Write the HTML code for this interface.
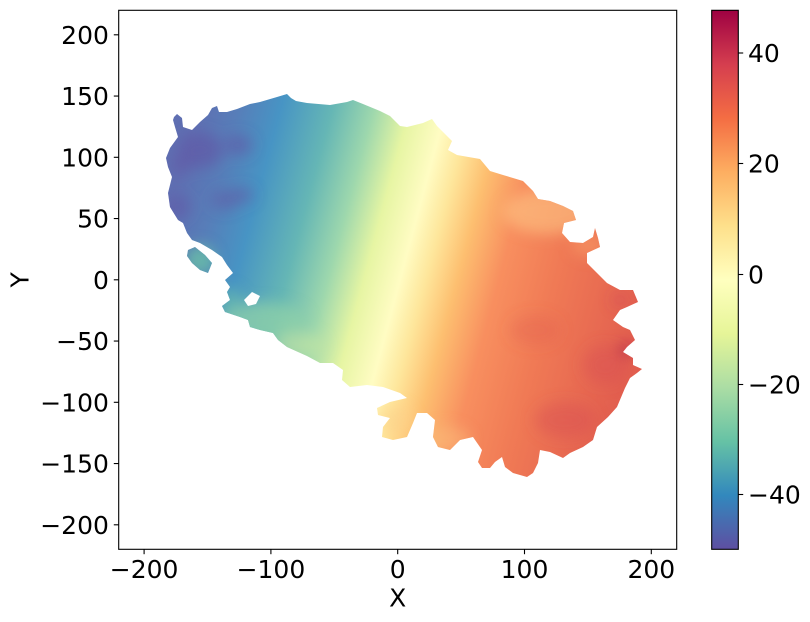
<!DOCTYPE html>
<html>
<head>
<meta charset="utf-8">
<style>
html,body{margin:0;padding:0;background:#fff;}
svg{display:block;}
text{font-family:"DejaVu Sans","Liberation Sans",sans-serif;fill:#000;}
</style>
</head>
<body>
<svg width="810" height="622" viewBox="0 0 810 622" xmlns="http://www.w3.org/2000/svg">
<defs>
  <clipPath id="blob">
    <polygon points="174,117 177,114 182,118 183,127 192,130 200,122 208,115 212,108 217,106 219,112 227,112 237,109 250,104 260,102 277,97 287,94 291,98 296,101 307,103 330,105 347,102 353,100 363,104 380,111 390,116 400,126 407,127 423,123 432,119 437,126 452,141 448,150 457,155 480,159 490,171 503,175 523,181 533,191 538,199 550,201 563,206 573,211 576,220 564,223 562,233 570,242 583,243 593,237 595,228 598,238 600,247 587,253 587,263 597,273 607,283 620,290 633,290 638,302 627,307 620,310 613,320 623,327 630,330 635,340 627,347 623,352 633,358 633,365 642,369 637,373 630,378 625,388 617,407 608,417 597,427 593,440 583,447 570,453 563,458 550,452 540,450 538,463 533,473 527,477 513,473 505,467 502,457 495,462 490,468 482,468 478,462 482,450 473,437 460,440 450,450 438,447 433,437 435,420 427,413 417,413 413,423 407,437 393,440 382,437 383,427 390,418 378,415 377,408 390,402 407,398 400,393 383,387 367,385 350,387 342,380 343,370 333,363 320,363 307,356 287,347 278,340 273,333 260,330 250,327 248,320 240,317 225,312 222,306 230,300 227,292 230,287 225,280 233,273 227,265 222,257 212,250 200,243 192,240 187,233 183,223 178,220 170,207 168,193 172,177 168,167 166,158 170,148 178,137 175,127 173,120"/>
    <polygon points="188,250 195,247 205,255 212,263 208,273 200,270 192,263 187,256"/>
  </clipPath>
  <linearGradient id="vg" gradientUnits="userSpaceOnUse" x1="168.2" y1="217.8" x2="631.8" y2="342.2">
    <stop offset="0" stop-color="#5f6fb2"/>
    <stop offset="0.083" stop-color="#577eb9"/>
    <stop offset="0.167" stop-color="#4794c4"/>
    <stop offset="0.271" stop-color="#65b6b5"/>
    <stop offset="0.354" stop-color="#9dd7ad"/>
    <stop offset="0.427" stop-color="#e6f5a3"/>
    <stop offset="0.5" stop-color="#fffcc3"/>
    <stop offset="0.552" stop-color="#fee69b"/>
    <stop offset="0.615" stop-color="#fdbf70"/>
    <stop offset="0.698" stop-color="#f88f5f"/>
    <stop offset="0.8125" stop-color="#f07a55"/>
    <stop offset="1" stop-color="#e25f4f"/>
  </linearGradient>
  <filter id="bl" x="-50%" y="-50%" width="200%" height="200%">
    <feGaussianBlur stdDeviation="7"/>
  </filter>
  <linearGradient id="cb" x1="0" y1="0" x2="0" y2="1">
    <stop offset="0" stop-color="#9e0142"/>
    <stop offset="0.1" stop-color="#d53e4f"/>
    <stop offset="0.2" stop-color="#f46d43"/>
    <stop offset="0.3" stop-color="#fdae61"/>
    <stop offset="0.4" stop-color="#fee08b"/>
    <stop offset="0.5" stop-color="#ffffbf"/>
    <stop offset="0.6" stop-color="#e6f598"/>
    <stop offset="0.7" stop-color="#abdda4"/>
    <stop offset="0.8" stop-color="#66c2a5"/>
    <stop offset="0.9" stop-color="#3288bd"/>
    <stop offset="1" stop-color="#5e4fa2"/>
  </linearGradient>
</defs>

<rect x="0" y="0" width="810" height="622" fill="#fff"/>

<!-- data blob -->
<g clip-path="url(#blob)">
  <rect x="150" y="80" width="510" height="410" fill="url(#vg)"/>
  <g filter="url(#bl)">
    <ellipse cx="200" cy="150" rx="22" ry="18" fill="#6158a6" opacity="0.7"/>
    <ellipse cx="238" cy="145" rx="14" ry="10" fill="#6158a6" opacity="0.6"/>
    <ellipse cx="225" cy="200" rx="14" ry="10" fill="#6158a6" opacity="0.5"/>
    <ellipse cx="178" cy="207" rx="12" ry="12" fill="#6158a6" opacity="0.6"/>
    <ellipse cx="242" cy="195" rx="12" ry="8" fill="#6158a6" opacity="0.5"/>
    <ellipse cx="180" cy="165" rx="10" ry="10" fill="#6158a6" opacity="0.5"/>
    <ellipse cx="262" cy="322" rx="45" ry="20" fill="#8fd0a8" opacity="0.75"/>
    <ellipse cx="230" cy="300" rx="12" ry="12" fill="#6cc0a9" opacity="0.6"/>
    <ellipse cx="300" cy="345" rx="25" ry="12" fill="#c6e6a2" opacity="0.6"/>
    <ellipse cx="200" cy="260" rx="15" ry="15" fill="#6cc2a6" opacity="0.8"/>
    <ellipse cx="548" cy="212" rx="45" ry="22" fill="#fdc583" opacity="0.6"/>
    <ellipse cx="590" cy="245" rx="18" ry="12" fill="#fba36a" opacity="0.5"/>
    <ellipse cx="605" cy="365" rx="22" ry="20" fill="#d94f55" opacity="0.45"/>
    <ellipse cx="565" cy="420" rx="30" ry="18" fill="#d94f55" opacity="0.45"/>
    <ellipse cx="535" cy="330" rx="25" ry="15" fill="#e05a50" opacity="0.3"/>
    <ellipse cx="625" cy="350" rx="6" ry="6" fill="#a5124a" opacity="0.8"/>
    <ellipse cx="620" cy="300" rx="8" ry="6" fill="#d03f55" opacity="0.5"/>
    <ellipse cx="445" cy="440" rx="25" ry="14" fill="#fcc07c" opacity="0.5"/>
    <ellipse cx="395" cy="420" rx="18" ry="15" fill="#fdd08a" opacity="0.5"/>
  </g>
</g>
<polygon points="244,300 252,292 260,296 256,304 248,306" fill="#fff"/>

<!-- axes frame -->
<rect x="118.7" y="10.3" width="558" height="539" fill="none" stroke="#000" stroke-width="1.1"/>

<!-- x ticks -->
<g stroke="#000" stroke-width="1.1">
  <line x1="144.1" y1="549.3" x2="144.1" y2="554.2"/>
  <line x1="270.9" y1="549.3" x2="270.9" y2="554.2"/>
  <line x1="397.7" y1="549.3" x2="397.7" y2="554.2"/>
  <line x1="524.5" y1="549.3" x2="524.5" y2="554.2"/>
  <line x1="651.3" y1="549.3" x2="651.3" y2="554.2"/>
</g>
<g font-size="25" text-anchor="middle">
  <text x="144.1" y="578">−200</text>
  <text x="270.9" y="578">−100</text>
  <text x="397.7" y="578">0</text>
  <text x="524.5" y="578">100</text>
  <text x="651.3" y="578">200</text>
</g>

<!-- y ticks -->
<g stroke="#000" stroke-width="1.1">
  <line x1="113.8" y1="34.8" x2="118.7" y2="34.8"/>
  <line x1="113.8" y1="96.05" x2="118.7" y2="96.05"/>
  <line x1="113.8" y1="157.3" x2="118.7" y2="157.3"/>
  <line x1="113.8" y1="218.55" x2="118.7" y2="218.55"/>
  <line x1="113.8" y1="279.8" x2="118.7" y2="279.8"/>
  <line x1="113.8" y1="341.05" x2="118.7" y2="341.05"/>
  <line x1="113.8" y1="402.3" x2="118.7" y2="402.3"/>
  <line x1="113.8" y1="463.55" x2="118.7" y2="463.55"/>
  <line x1="113.8" y1="524.8" x2="118.7" y2="524.8"/>
</g>
<g font-size="25" text-anchor="end">
  <text x="108.9" y="43.8">200</text>
  <text x="108.9" y="105.05">150</text>
  <text x="108.9" y="166.3">100</text>
  <text x="108.9" y="227.55">50</text>
  <text x="108.9" y="288.8">0</text>
  <text x="108.9" y="350.05">−50</text>
  <text x="108.9" y="411.3">−100</text>
  <text x="108.9" y="472.55">−150</text>
  <text x="108.9" y="533.8">−200</text>
</g>

<!-- axis labels -->
<text x="397.7" y="606.5" font-size="25" text-anchor="middle">X</text>
<text transform="translate(28.3,279.8) rotate(-90)" font-size="25" text-anchor="middle">Y</text>

<!-- colorbar -->
<rect x="711.7" y="10.3" width="26.6" height="539" fill="url(#cb)" stroke="#000" stroke-width="1.1"/>
<g stroke="#000" stroke-width="1.1">
  <line x1="738.3" y1="53" x2="743.2" y2="53"/>
  <line x1="738.3" y1="163.5" x2="743.2" y2="163.5"/>
  <line x1="738.3" y1="274.5" x2="743.2" y2="274.5"/>
  <line x1="738.3" y1="384.5" x2="743.2" y2="384.5"/>
  <line x1="738.3" y1="494.5" x2="743.2" y2="494.5"/>
</g>
<g font-size="25" text-anchor="start">
  <text x="748" y="62">40</text>
  <text x="748" y="172.5">20</text>
  <text x="748" y="283.5">0</text>
  <text x="748" y="393.5">−20</text>
  <text x="748" y="503.5">−40</text>
</g>
</svg>
</body>
</html>
